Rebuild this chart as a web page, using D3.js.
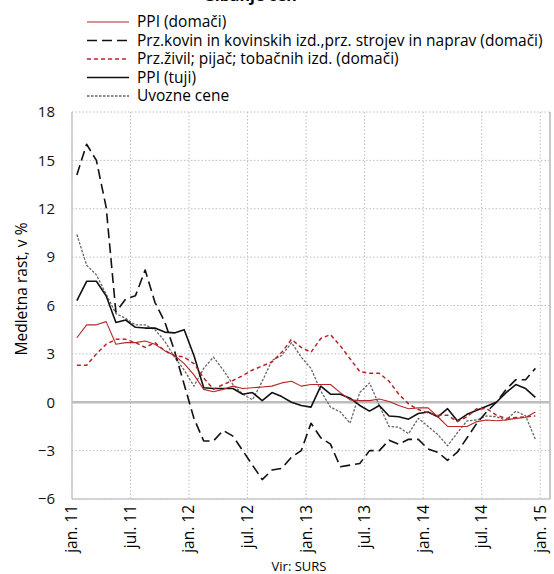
<!DOCTYPE html>
<html>
<head>
<meta charset="utf-8">
<script src="https://cdn.jsdelivr.net/npm/d3@7"></script>
<style>
  body { margin: 0; background: #fff; }
  svg { font-family: "Open Sans", sans-serif; }
  .grid line { stroke: #bdbdbd; stroke-dasharray: 1.5,2; stroke-width: 1; }
</style>
</head>
<body>
<script>
// months jan. 11 .. dec. 14 (48 values), one more empty slot for jan. 15
var tickLabels = ["jan. 11", "jul. 11", "jan. 12", "jul. 12", "jan. 13", "jul. 13", "jan. 14", "jul. 14", "jan. 15"];
var yTicks = [-6, -3, 0, 3, 6, 9, 12, 15, 18];

var ppiDomaci = [4.0, 4.8, 4.8, 5.0, 3.6, 3.7, 3.7, 3.8, 3.6, 3.2, 2.9, 2.4,
    1.7, 0.8, 0.65, 0.8, 1.0, 0.85, 0.9, 0.95, 1.0, 1.2, 1.3, 1.0,
    1.1, 1.1, 1.1, 0.6, 0.15, 0.1, 0.1, 0.2, 0.05, -0.2, -0.4, -0.35,
    -0.35, -0.9, -1.5, -1.5, -1.5, -1.2, -1.1, -1.15, -1.1, -1.0, -0.95, -0.6];

var przKovin = [14.1, 16.0, 15.0, 12.1, 5.6, 6.4, 6.6, 8.2, 6.2, 5.0, 3.2, 1.1,
    -1.0, -2.4, -2.4, -1.75, -2.1, -3.0, -3.9, -4.8, -4.2, -4.1, -3.4, -3.0,
    -1.3, -2.2, -2.6, -4.0, -3.9, -3.8, -3.0, -3.0, -2.35, -2.6, -2.3, -2.3,
    -2.9, -3.1, -3.6, -3.1, -2.2, -1.3, -0.6, 0.0, 0.8, 1.4, 1.4, 2.1];

var przZivil = [2.3, 2.3, 3.0, 3.6, 3.9, 3.9, 3.7, 3.4, 3.7, 3.2, 2.9, 2.8,
    2.4, 1.5, 0.8, 1.1, 1.35, 1.65, 2.0, 2.25, 2.5, 3.1, 3.9, 3.4,
    3.1, 3.95, 4.2, 3.5, 2.7, 1.9, 1.8, 1.8, 1.3, 0.5, -0.1, -0.45,
    -0.65, -0.8, -0.8, -1.2, -0.9, -0.4, -0.4, -0.8, -1.0, -0.95, -0.9, -0.85];

var ppiTuji = [6.3, 7.5, 7.5, 6.6, 4.95, 5.1, 4.65, 4.6, 4.6, 4.35, 4.3, 4.5,
    2.9, 0.9, 0.85, 0.85, 0.85, 0.5, 0.6, 0.1, 0.6, 0.35, 0.0, -0.2,
    -0.3, 1.0, 0.5, 0.5, 0.25, -0.2, -0.55, -0.2, -0.85, -0.9, -1.05, -0.7,
    -0.6, -0.9, -0.4, -1.15, -0.75, -0.5, -0.25, 0.0, 0.6, 1.1, 0.85, 0.3];

var uvozneCene = [10.4, 8.5, 7.9, 6.7, 5.5, 5.2, 4.8, 4.8, 4.5, 3.8, 2.8, 2.0,
    1.0, 2.1, 2.8, 2.0, 1.1, 0.5, 0.15, 1.3, 2.6, 2.9, 3.7, 2.8,
    2.1, 0.7, -0.3, -0.6, -1.3, 0.6, 1.2, -0.2, -1.5, -1.55, -1.95, -1.0,
    -1.5, -2.0, -2.7, -1.9, -1.15, -1.1, -0.85, -0.9, -1.1, -0.55, -0.85, -2.3];

var seriesNames = ["PPI (domači)", "Prz.kovin in kovinskih izd.,prz. strojev in naprav (domači)",
    "Prz.živil; pijač; tobačnih izd. (domači)", "PPI (tuji)", "Uvozne cene"];

var series = [
    { name: seriesNames[0], values: ppiDomaci, color: "#b5262b", width: 1.1, dash: null },
    { name: seriesNames[1], values: przKovin, color: "#111", width: 1.6, dash: "10,5" },
    { name: seriesNames[2], values: przZivil, color: "#b5262b", width: 1.5, dash: "4,3" },
    { name: seriesNames[3], values: ppiTuji, color: "#111", width: 1.6, dash: null },
    { name: seriesNames[4], values: uvozneCene, color: "#666", width: 1.3, dash: "2.5,1.5" }
];

function drawChart() {
    var width = 554, height = 574;
    var pLeft = 72, pRight = 550, pTop = 112, pBottom = 499;

    var svg = d3.select("body").append("svg")
        .attr("width", width)
        .attr("height", height);

    var x = d3.scaleLinear().domain([0, 49]).range([pLeft, pRight]);
    var y = d3.scaleLinear().domain([-6, 18]).range([pBottom, pTop]);

    // title, mostly cut off by the top edge
    svg.append("text")
        .attr("x", 250)
        .attr("y", 1)
        .attr("text-anchor", "middle")
        .style("font-weight", "bold")
        .style("font-size", "16px")
        .text("Gibanje cen");

    // grid
    var grid = svg.append("g").attr("class", "grid");
    grid.selectAll(".hy").data(yTicks.filter(function(d) { return d !== 0; }))
        .enter().append("line")
        .attr("x1", pLeft).attr("x2", pRight)
        .attr("y1", function(d) { return y(d); })
        .attr("y2", function(d) { return y(d); });
    grid.selectAll(".vx").data(tickLabels)
        .enter().append("line")
        .attr("x1", function(d, i) { return x(i * 6); })
        .attr("x2", function(d, i) { return x(i * 6); })
        .attr("y1", pTop).attr("y2", pBottom);

    // frame
    svg.append("line").attr("x1", pLeft).attr("x2", pLeft).attr("y1", pTop).attr("y2", pBottom)
        .style("stroke", "#c8c8c8").style("stroke-width", 1.5);
    svg.append("line").attr("x1", pRight).attr("x2", pRight).attr("y1", pTop).attr("y2", pBottom)
        .style("stroke", "#c8c8c8").style("stroke-width", 2);
    svg.append("line").attr("x1", pLeft).attr("x2", pRight).attr("y1", pBottom).attr("y2", pBottom)
        .style("stroke", "#c8c8c8").style("stroke-width", 1.5);
    svg.append("line").attr("x1", pLeft).attr("x2", pRight).attr("y1", y(0)).attr("y2", y(0))
        .style("stroke", "#bdbdbd").style("stroke-width", 2.5);

    // y axis
    var yAxis = d3.axisLeft(y).tickValues(yTicks).tickSize(0).tickPadding(17);
    var yg = svg.append("g").attr("transform", "translate(" + pLeft + ",0)").call(yAxis);
    yg.select(".domain").remove();
    yg.selectAll("text").style("font-size", "15px").style("fill", "#111")
        .style("font-family", "'Open Sans', sans-serif");

    svg.append("text")
        .attr("transform", "translate(27,289) rotate(-90)")
        .attr("text-anchor", "middle")
        .style("font-size", "15.5px")
        .text("Medletna rast, v %");

    // x labels
    svg.selectAll(".xl").data(tickLabels)
        .enter().append("text")
        .attr("class", "xl")
        .attr("transform", function(d, i) {
            return "translate(" + x(i * 6) + "," + (pBottom + 6) + ") rotate(-90)";
        })
        .attr("text-anchor", "end")
        .attr("dy", "0.35em")
        .style("font-size", "15.5px")
        .text(function(d) { return d; });

    svg.append("text")
        .attr("x", 299)
        .attr("y", 571)
        .attr("text-anchor", "middle")
        .style("font-size", "13px")
        .text("Vir: SURS");

    // lines
    var line = d3.line()
        .x(function(d, i) { return x(i + 0.5); })
        .y(function(d) { return y(d); });

    svg.selectAll(".series").data(series.slice().reverse())
        .enter().append("path")
        .attr("class", "series")
        .attr("d", function(d) { return line(d.values); })
        .style("fill", "none")
        .style("stroke", function(d) { return d.color; })
        .style("stroke-width", function(d) { return d.width; })
        .style("stroke-dasharray", function(d) { return d.dash; })
        .style("stroke-linejoin", "round");

    // legend
    var legend = svg.selectAll(".leg").data(series)
        .enter().append("g")
        .attr("class", "leg")
        .attr("transform", function(d, i) { return "translate(87," + (22 + i * 18.5) + ")"; });
    legend.append("line")
        .attr("x1", 0).attr("x2", 42)
        .style("stroke", function(d) { return d.color; })
        .style("stroke-width", function(d) { return d.width; })
        .style("stroke-dasharray", function(d) { return d.dash; });
    legend.append("text")
        .attr("x", 50)
        .attr("dy", "0.35em")
        .style("font-size", "15.5px")
        .text(function(d) { return d.name; });
}

drawChart();
</script>
</body>
</html>
